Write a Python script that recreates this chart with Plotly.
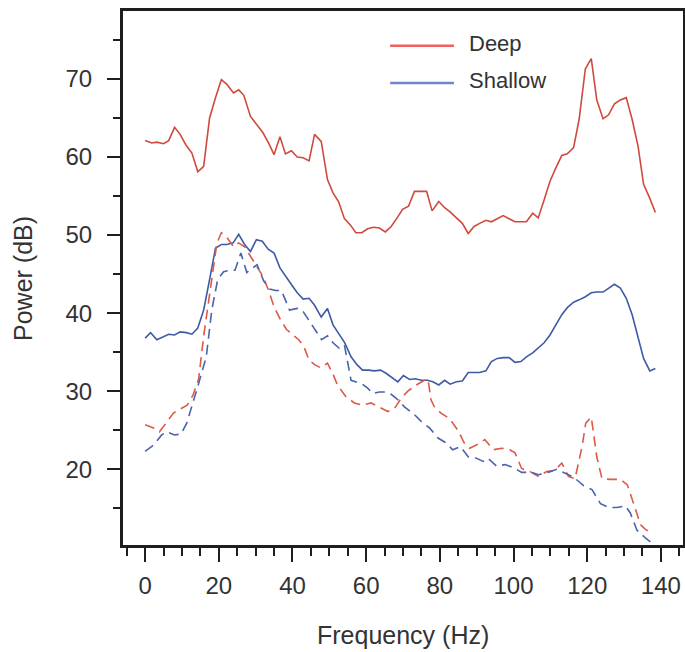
import plotly.graph_objects as go

# ---- data ----
deep_solid_f = [0, 1.8, 3.2, 5, 6.4, 8, 9.5, 11, 12.7, 14.3, 15.9, 17.5, 19.1, 20.7, 22.2, 24, 25.4, 26.8,
                28.6, 30.4, 32, 33.6, 35, 36.6, 38.1, 39.7, 41.3, 42.9, 44.5, 46, 47.8, 49.5, 51, 52.5, 54.1,
                55.7, 57.2, 58.8, 60.4, 62, 63.6, 65.2, 66.8, 68.4, 69.9, 71.5, 73.1, 74.7, 76.4, 77.9, 79.7,
                81.3, 82.7, 84.5, 86.1, 87.7, 89.3, 90.8, 92.5, 94, 95.6, 97.2, 98.8, 100.4, 102, 103.5, 105.2,
                106.7, 108.3, 109.9, 111.4, 113.1, 114.6, 116.3, 117.8, 119.5, 121.1, 122.6, 124.3, 125.8,
                127.4, 129, 130.6, 132.2, 133.8, 135.3, 137, 138.5]
deep_solid_v = [62.1, 61.8, 61.9, 61.7, 62.1, 63.8, 62.9, 61.6, 60.5, 58.1, 58.8, 65.0, 67.6, 69.9, 69.3, 68.2,
                68.6, 67.9, 65.2, 64.1, 63.1, 61.7, 60.3, 62.6, 60.4, 60.8, 60.0, 59.9, 59.5, 62.9, 62.0, 57.1,
                55.4, 54.3, 52.1, 51.3, 50.3, 50.3, 50.8, 51.0, 50.9, 50.4, 51.1, 52.2, 53.3, 53.7, 55.6, 55.6,
                55.6, 53.1, 54.3, 53.5, 53.0, 52.2, 51.5, 50.2, 51.1, 51.5, 51.9, 51.7, 52.1, 52.5, 52.1, 51.7,
                51.7, 51.7, 52.8, 52.2, 54.5, 56.9, 58.5, 60.2, 60.4, 61.2, 64.8, 71.3, 72.6, 67.3, 64.9, 65.4,
                66.8, 67.3, 67.6, 64.8, 61.4, 56.5, 54.7, 52.9]

shallow_solid_f = [0, 1.5, 3.2, 4.8, 6.4, 8, 9.5, 11.2, 12.7, 14.3, 15.9, 17.5, 19.1, 20.7, 22.2, 23.9, 25.4,
                   27, 28.6, 30.2, 31.8, 33.4, 35, 36.6, 38.1, 39.8, 41.3, 42.9, 44.5, 46, 47.8, 49.5, 51,
                   52.7, 54.2, 55.9, 57.5, 59, 60.7, 62.2, 63.9, 65.4, 67, 68.6, 70.1, 71.8, 73.3, 75, 76.6,
                   78.1, 79.7, 81.3, 82.8, 84.5, 86.1, 87.7, 89.3, 90.8, 92.5, 94, 95.6, 97.2, 98.8, 100.4,
                   102, 103.5, 105.2, 106.7, 108.3, 109.9, 111.4, 113.1, 114.6, 116.3, 117.8, 119.5, 121.1,
                   122.6, 124.3, 125.8, 127.4, 129, 130.6, 132.2, 133.8, 135.3, 137, 138.5]
shallow_solid_v = [36.8, 37.5, 36.6, 37.0, 37.3, 37.2, 37.6, 37.5, 37.3, 38.1, 40.4, 44.3, 48.3, 48.8, 48.8,
                   49.0, 50.1, 48.8, 47.9, 49.4, 49.2, 48.2, 47.7, 45.8, 44.7, 43.6, 42.6, 41.8, 41.9, 41.0,
                   39.5, 40.6, 38.5, 37.2, 36.2, 34.4, 33.4, 32.7, 32.7, 32.6, 32.7, 32.3, 31.7, 31.2, 32.0,
                   31.5, 31.6, 31.4, 31.4, 31.2, 30.8, 31.4, 30.9, 31.2, 31.3, 32.4, 32.4, 32.4, 32.6, 33.8,
                   34.2, 34.3, 34.3, 33.7, 33.8, 34.4, 34.9, 35.5, 36.2, 37.2, 38.5, 39.8, 40.7, 41.4, 41.7,
                   42.1, 42.6, 42.7, 42.7, 43.2, 43.7, 43.2, 41.9, 39.8, 37.0, 34.2, 32.6, 32.9]

deep_dash_f = [0, 2.3, 3.9, 5.9, 7.7, 9.5, 11.4, 13, 14.5, 16, 17.7, 19.5, 20.7, 22.2, 24, 25.4, 27, 28.6,
               30.4, 32, 33.6, 35, 36.8, 38.4, 39.9, 41.7, 43.1, 44.5, 46, 47.7, 49.5, 51, 52.2, 54.5, 56.8,
               59, 61.3, 63.6, 65.9, 67.7, 69.5, 71.3, 73.6, 75.8, 76.8, 77.6, 78.5, 80.3, 82.6, 84.9, 86.7,
               88.1, 89.9, 92.2, 94.5, 96.8, 99, 100.4, 102.2, 104.5, 106.7, 109, 111.3, 113.1, 114.9, 116.7,
               118.6, 119.6, 121.1, 122.6, 124, 126.3, 129, 130.9, 132.6, 134.5, 135.8, 137.6]
deep_dash_v = [25.7, 25.3, 24.8, 26.1, 27.2, 27.7, 28.2, 29.5, 31.5, 37.4, 43.0, 49.0, 50.3, 49.7, 48.5, 49.0,
               48.5, 47.3, 46.0, 44.7, 42.8, 40.8, 39.1, 37.9, 37.3, 36.6, 35.7, 34.0, 33.4, 33.0, 33.6, 32.2,
               30.8, 29.3, 28.5, 28.2, 28.5, 28.0, 27.4, 27.8, 29.1, 30.0, 30.8, 31.4, 31.5, 28.9, 28.0, 27.2,
               26.5, 25.0, 23.3, 22.7, 23.1, 23.8, 22.5, 22.7, 22.5, 22.1, 20.1, 19.7, 19.1, 19.7, 19.9, 20.8,
               19.1, 18.8, 22.9, 25.9, 26.7, 21.6, 18.8, 18.7, 18.7, 18.0, 15.6, 12.9, 12.3, 11.8]

shallow_dash_f = [0, 2.3, 4.5, 5.9, 8, 9.7, 11.3, 12.7, 14.3, 16.6, 18.1, 19.7, 21.3, 22.9, 24.4, 26, 27.6,
                  29.2, 30.4, 32.2, 33.8, 35.4, 37, 39.2, 41.3, 42.9, 44.5, 46.2, 47.9, 49.5, 51, 52.7, 54.1,
                  55.9, 57.5, 59, 60.4, 61.8, 63.6, 65.2, 66.8, 68.4, 70.4, 73.1, 75, 77.2, 79.5, 81.3, 83.5,
                  85.6, 87.7, 89.5, 91.8, 93.1, 95.4, 97.7, 100, 102.2, 104.9, 106.7, 109.4, 111.7, 114, 116.3,
                  119, 121.3, 123.6, 125.8, 128.1, 130.4, 131.7, 133.5, 135.8, 138.5]
shallow_dash_v = [22.3, 23.1, 24.4, 24.8, 24.4, 24.5, 25.9, 28.0, 30.6, 34.4, 40.4, 44.3, 45.3, 45.5, 45.5,
                  47.7, 45.2, 45.8, 46.2, 44.1, 43.1, 42.9, 42.9, 40.4, 40.6, 40.2, 39.1, 37.9, 36.6, 37.1,
                  36.2, 35.5, 35.9, 31.4, 31.1, 30.9, 30.4, 29.7, 29.9, 29.9, 29.6, 29.0, 28.0, 27.0, 26.1,
                  25.3, 24.0, 23.5, 22.5, 22.9, 21.6, 21.5, 21.0, 21.4, 20.4, 20.6, 20.2, 19.6, 19.6, 19.3,
                  19.6, 20.0, 19.5, 19.0, 17.9, 17.4, 15.6, 15.1, 15.1, 15.3, 14.4, 12.2, 11.2, 10.2]

legend_labels = ["Deep", "Shallow"]

RED = "#cf4a3d"
BLUE = "#3f5aa5"
TXT = "#333333"
FONT = "Liberation Sans, Arial, sans-serif"

fig = go.Figure()
fig.add_trace(go.Scatter(x=deep_solid_f, y=deep_solid_v, mode="lines",
                         line=dict(color=RED, width=1.6), showlegend=False))
fig.add_trace(go.Scatter(x=shallow_solid_f, y=shallow_solid_v, mode="lines",
                         line=dict(color=BLUE, width=1.6), showlegend=False))
fig.add_trace(go.Scatter(x=deep_dash_f, y=deep_dash_v, mode="lines",
                         line=dict(color="#dd5a48", width=1.6, dash="10px,6px"), showlegend=False))
fig.add_trace(go.Scatter(x=shallow_dash_f, y=shallow_dash_v, mode="lines",
                         line=dict(color="#4a64ae", width=1.6, dash="10px,6px"), showlegend=False))

# custom legend (paper coordinates)
leg_colors = ["#f06262", "#6f86cc"]
leg_y = [0.935, 0.865]
for lab, col, yy in zip(legend_labels, leg_colors, leg_y):
    fig.add_shape(type="line", xref="paper", yref="paper", x0=0.477, x1=0.591, y0=yy, y1=yy,
                  line=dict(color=col, width=2.5))
    fig.add_annotation(xref="paper", yref="paper", x=0.615, y=yy + 0.004, text=lab, showarrow=False,
                       xanchor="left", yanchor="middle", font=dict(family=FONT, size=22, color=TXT))

fig.add_annotation(xref="paper", yref="paper", x=-0.1786, y=0.5, text="Power (dB)", textangle=-90,
                   showarrow=False, xanchor="center", yanchor="middle",
                   font=dict(family=FONT, size=25, color=TXT))
fig.add_annotation(xref="paper", yref="paper", x=0.5, y=-0.1685, text="Frequency (Hz)",
                   showarrow=False, xanchor="center", yanchor="middle",
                   font=dict(family=FONT, size=25, color=TXT))

axis_common = dict(showline=True, linecolor="#1e1e1e", linewidth=3, mirror=True, showgrid=False,
                   zeroline=False, ticks="outside", tickwidth=1.8, tickcolor="#1e1e1e",
                   tickfont=dict(family=FONT, size=24, color=TXT))

fig.update_xaxes(range=[-6, 146], tick0=0, dtick=20, ticklen=14, ticklabelstandoff=3,
                 minor=dict(tick0=0, dtick=5, ticklen=8, ticks="outside", tickwidth=1.8,
                            tickcolor="#1e1e1e", showgrid=False),
                 **axis_common)
fig.update_yaxes(range=[10.3, 78.7], tick0=0, dtick=10, ticklen=13, ticklabelstandoff=10,
                 minor=dict(tick0=0, dtick=5, ticklen=7, ticks="outside", tickwidth=1.8,
                            tickcolor="#1e1e1e", showgrid=False),
                 **axis_common)

fig.update_layout(width=685, height=652, margin=dict(l=123, r=2, t=11, b=107, autoexpand=False),
                  paper_bgcolor="white", plot_bgcolor="white", font=dict(family=FONT, color=TXT))

fig.write_html("out.html")
